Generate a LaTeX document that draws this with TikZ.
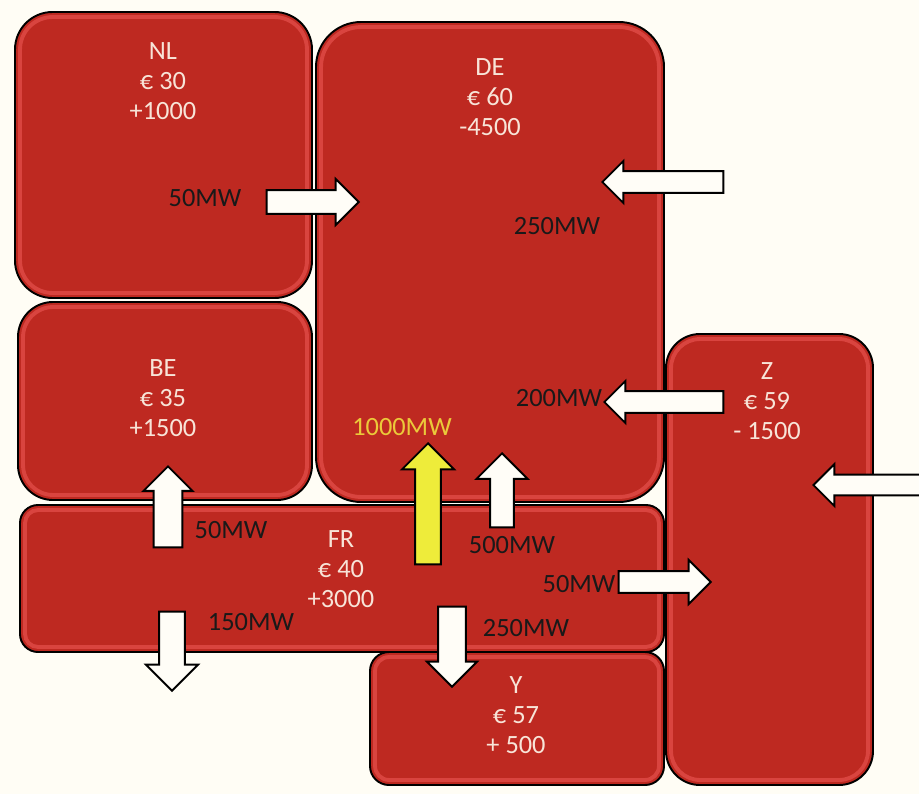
\documentclass[tikz,border=0pt]{standalone}
\usepackage{fontspec}
\setmainfont{Carlito}
\usetikzlibrary{shapes.arrows,calc}

\definecolor{zonered}{HTML}{BE2921}
\definecolor{zonegloss}{HTML}{E85450}
\definecolor{zonetext}{HTML}{F8E4D8}
\definecolor{flowfill}{HTML}{FFFDF7}
\definecolor{flowyellow}{HTML}{EEEC3A}
\definecolor{mwyellow}{HTML}{EBC93A}
\definecolor{paper}{HTML}{FFFDF5}

\tikzset{
  zone/.style={draw=black, line width=1.1pt, fill=zonered, inner sep=0pt},
  zonesize/.style 2 args={minimum width=#1*0.02cm, minimum height=#2*0.02cm},
  gloss/.style={draw=zonegloss, line width=2.2pt, opacity=0.65},
  zonelabel/.style={text=zonetext, align=center, inner sep=0pt, font=\fontsize{15}{17}\selectfont},
  mw/.style={inner sep=0pt, text=black!90, font=\fontsize{15}{17}\selectfont},
  flow/.style={single arrow, draw=black, line width=1.1pt, fill=flowfill, inner xsep=0pt, anchor=tip},
  flowsize/.style n args={3}{minimum height=#1*0.02cm, inner ysep=#2*0.01cm, single arrow head extend=(#3-#2)*0.01cm},
}

\begin{document}
\begin{tikzpicture}[x=0.02cm, y=-0.02cm]
      \path[use as bounding box, fill=paper] (0,0) rectangle (919,794);
      \node[zone, zonesize={297}{286}, rounded corners=0.75cm] (nl) at (163.5,155) {};
      \node[zone, zonesize={348}{480}, rounded corners=0.9cm] (de) at (490,262) {};
      \node[zone, zonesize={294}{198}, rounded corners=0.7cm] (be) at (165,401) {};
      \node[zone, zonesize={644}{147}, rounded corners=0.36cm] (fr) at (342,578.5) {};
      \node[zone, zonesize={294}{133}, rounded corners=0.38cm] (y) at (517,718.5) {};
      \node[zone, zonesize={207}{451}, rounded corners=0.68cm] (z) at (769.5,559.5) {};
      \draw[gloss, rounded corners=0.65cm] ($(nl.north west)+(6,6)$) rectangle ($(nl.south east)+(-6,-6)$);
      \draw[gloss, rounded corners=0.8cm] ($(de.north west)+(6,6)$) rectangle ($(de.south east)+(-6,-6)$);
      \draw[gloss, rounded corners=0.6cm] ($(be.north west)+(6,6)$) rectangle ($(be.south east)+(-6,-6)$);
      \draw[gloss, rounded corners=0.26cm] ($(fr.north west)+(6,6)$) rectangle ($(fr.south east)+(-6,-6)$);
      \draw[gloss, rounded corners=0.28cm] ($(y.north west)+(6,6)$) rectangle ($(y.south east)+(-6,-6)$);
      \draw[gloss, rounded corners=0.58cm] ($(z.north west)+(6,6)$) rectangle ($(z.south east)+(-6,-6)$);
      \node[zonelabel] (nltext) at (163,81) {NL\\€ 30\\+1000};
      \node[zonelabel] (detext) at (490,97) {DE\\€ 60\\-4500};
      \node[zonelabel] (betext) at (163,398) {BE\\€ 35\\+1500};
      \node[zonelabel] (frtext) at (341,569) {FR\\€ 40\\+3000};
      \node[zonelabel] (ytext) at (516,715) {Y\\€ 57\\+ 500};
      \node[zonelabel] (ztext) at (767,401) {Z\\€ 59\\- 1500};
      \node[flow, flowsize={92}{22}{44}] (nlde) at (360,202) {};
      \node[flow, flowsize={121}{20}{40}, rotate=180] (inde) at (601,182) {};
      \node[flow, flowsize={119}{20}{40}, rotate=180] (zde) at (603,402) {};
      \node[flow, flowsize={121}{24}{50}, rotate=90, fill=flowyellow] (frdeb) at (428,442) {};
      \node[flow, flowsize={74}{22}{49}, rotate=90] (frde) at (502,452) {};
      \node[flow, flowsize={81}{27}{47}, rotate=90] (frbe) at (168,465) {};
      \node[flow, flowsize={79}{24}{50}, rotate=-90] (frout) at (172,692) {};
      \node[flow, flowsize={80}{26}{48}, rotate=-90] (fry) at (452,688) {};
      \node[flow, flowsize={92}{20}{42}] (frz) at (712,582) {};
      \node[flow, flowsize={107}{19}{40}, rotate=180] (inz) at (812,485) {};
      \node[mw] (mwnlde) at (205,198) {50MW};
      \node[mw] (mwinde) at (557,226) {250MW};
      \node[mw] (mwzde) at (559,398) {200MW};
      \node[mw, text=mwyellow] (mwfrdeb) at (402,427) {1000MW};
      \node[mw] (mwfrde) at (512,545) {500MW};
      \node[mw] (mwfrbe) at (231,530) {50MW};
      \node[mw] (mwfrout) at (251,622) {150MW};
      \node[mw] (mwfry) at (526,628) {250MW};
      \node[mw] (mwfrz) at (579,584) {50MW};
   \end{tikzpicture}
\end{document}
